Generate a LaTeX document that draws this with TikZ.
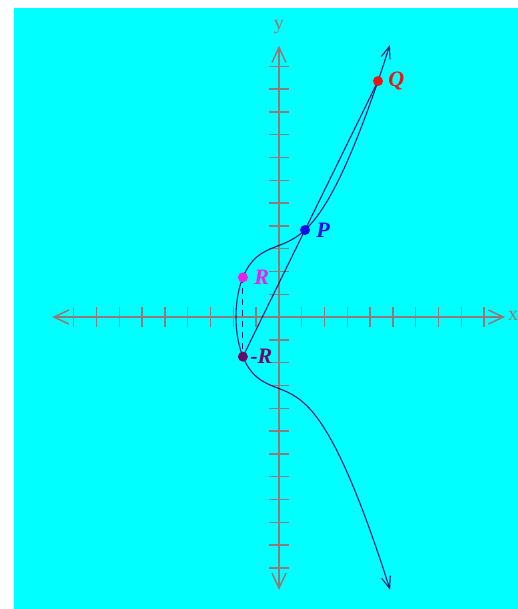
\documentclass[tikz,border=0pt]{standalone}
\usepackage{fontspec}
\newfontfamily\lblfont{Liberation Serif}
\usepackage{tikz}
\usetikzlibrary{positioning,arrows.meta}
\definecolor{sky}     {HTML}{00FFFF}
\definecolor{axisgray}{RGB}{140,124,124}
\definecolor{navy}    {RGB}{28,28,120}
\definecolor{qred}    {RGB}{235,20,20}
\definecolor{pblue}   {RGB}{15,15,235}
\definecolor{rmag}    {RGB}{235,30,235}
\definecolor{rpurple} {RGB}{105,10,100}
\tikzset{
  % --- axes
  axis/.style   = {draw=axisgray, line width=1.5pt,
                   {Straight Barb[length=15pt,width=14pt]}-{Straight Barb[length=15pt,width=14pt]}},
  axtick/.style = {draw=axisgray, line width=1.4pt},
  axlbl/.style  = {font=\lblfont\fontsize{20}{20}\selectfont, text=axisgray, inner sep=0pt},
  % --- curve and lines
  ecurve/.style = {draw=navy, line width=1.1pt,
                   {Straight Barb[length=12pt,width=9pt]}-{Straight Barb[length=12pt,width=9pt]}},
  chord/.style  = {draw=navy, line width=1.1pt},
  reflect/.style= {draw=navy, line width=1pt, dash pattern=on 6pt off 5pt},
  % --- points
  dot/.style    = {circle, inner sep=0pt, minimum size=10pt},
  ptlbl/.style  = {font=\lblfont\bfseries\itshape\fontsize{22}{22}\selectfont, inner sep=1pt},
}

\begin{document}
\begin{tikzpicture}[x=22.8pt,y=22.8pt,
  declare function={ec(\x)=0.9738*\x*\x*\x+0.3659*\x*\x+2.449*\x+9.85;}]
  \useasboundingbox (-12.237,-12.807) rectangle (10.482,13.904);
  \fill[sky] (-11.623,-12.807) rectangle (10.482,13.553);

  % axes
  \draw[axis] (-9.95,0) -- (9.92,0);
  \draw[axis] (0,-11.97) -- (0,11.9);
  \foreach \i in {1,...,9}
  {
    \draw[axtick] (\i,-0.44) -- (\i,0.44);
    \draw[axtick] (-\i,-0.44) -- (-\i,0.44);
  }
  \foreach \j in {1,...,11}
  {
    \draw[axtick] (-0.44,\j) -- (0.44,\j);
    \draw[axtick] (-0.44,-\j) -- (0.44,-\j);
  }
  \node[axlbl] (ylbl) at (0,12.72) {y};
  \node[axlbl, anchor=west] (xlbl) at (10.04,0.05) {x};

  % the curve
  \draw[ecurve] plot[domain=-2.6:2.6, samples=161, variable=\t]
    ({-1.886+\t*\t}, {sign(\t)*sqrt(abs(ec(-1.886+\t*\t)))});

  % points on it
  \coordinate (P)  at (1.14,3.816);
  \coordinate (Q)  at (4.342,10.349);
  \coordinate (R)  at (-1.583,1.740);
  \coordinate (mR) at (-1.583,-1.740);
  \draw[chord] (mR) -- (Q);
  \draw[reflect] (R) -- (mR);

  \node[dot, fill=qred]    (Qdot)  at (Q)  {};
  \node[dot, fill=pblue]   (Pdot)  at (P)  {};
  \node[dot, fill=rmag]    (Rdot)  at (R)  {};
  \node[dot, fill=rpurple] (mRdot) at (mR) {};
  \node[ptlbl, text=qred,    right=4pt of Qdot]  (Qlbl)  {Q};
  \node[ptlbl, text=pblue,   right=5pt of Pdot]  (Plbl)  {P};
  \node[ptlbl, text=rmag,    right=5pt of Rdot]  (Rlbl)  {R};
  \node[ptlbl, text=rpurple, right=1pt of mRdot] (mRlbl) {-R};
\end{tikzpicture}
\end{document}
